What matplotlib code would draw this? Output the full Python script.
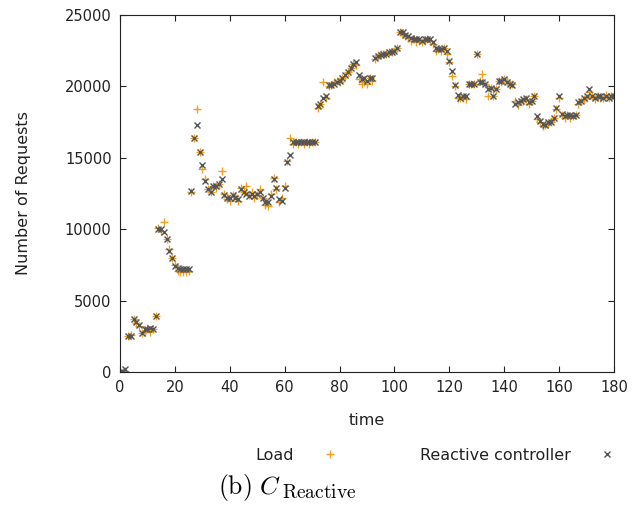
import numpy as np
import matplotlib.pyplot as plt

plt.rcParams['mathtext.fontset'] = 'cm'

# time steps 0..180
time = list(range(0, 181))

load = [
    0, 0, 100, 2500, 2600, 3700, 3400, 3200, 2700, 2800,
    3100, 2800, 3000, 3900, 10100, 9900, 10500, 9300, 8600, 8000,
    7500, 7100, 7000, 7000, 7000, 7100, 12600, 16400, 18400, 15400,
    14200, 13500, 12800, 12600, 13000, 12900, 13200, 14100, 12500, 12100,
    12000, 12400, 12300, 12000, 12900, 12600, 13000, 12400, 12600, 12200,
    12400, 12800, 12200, 11700, 11600, 12500, 13600, 12800, 11900, 12200,
    13000, 14800, 16400, 16000, 16100, 16000, 16100, 16000, 16100, 16000,
    16100, 16100, 18500, 18800, 20300, 19200, 20000, 20100, 20300, 20400,
    20300, 20600, 20700, 21000, 21300, 21600, 21500, 20500, 20200, 20300,
    20200, 20600, 20400, 21900, 22200, 22300, 22300, 22300, 22400, 22400,
    22500, 22700, 23800, 23700, 23500, 23400, 23200, 23300, 23100, 23200,
    23100, 23200, 23300, 23200, 23000, 22500, 22600, 22500, 22700, 22300,
    21700, 20700, 20000, 19200, 19200, 19200, 19100, 20200, 20200, 20200,
    22300, 20400, 20900, 20200, 19300, 19900, 19300, 19800, 20400, 20300,
    20500, 20400, 20100, 20200, 19000, 18700, 19000, 19000, 19100, 18800,
    19000, 19300, 17700, 17500, 17200, 17300, 17400, 17500, 17800, 18400,
    19200, 18000, 17800, 18000, 17800, 17900, 18000, 18800, 19000, 19100,
    19200, 19600, 19300, 19100, 19300, 19200, 19200, 19400, 19200, 19300,
    19300,
]

controller = [
    0, 0, 200, 2500, 2500, 3700, 3500, 3300, 2700, 3000,
    3000, 3100, 3000, 3900, 10000, 10000, 9800, 9300, 8500, 8000,
    7400, 7300, 7200, 7200, 7200, 7200, 12700, 16400, 17300, 15400,
    14500, 13400, 12800, 12600, 13000, 13000, 13200, 13500, 12400, 12200,
    12200, 12400, 12200, 12100, 12800, 12600, 12500, 12300, 12500, 12300,
    12500, 12600, 12200, 11900, 11900, 12300, 13500, 12900, 12100, 12000,
    12900, 14700, 15200, 16100, 16100, 16100, 16100, 16100, 16100, 16100,
    16100, 16100, 18600, 18800, 19200, 19300, 20100, 20100, 20200, 20300,
    20400, 20600, 20800, 21000, 21300, 21600, 21700, 20800, 20500, 20600,
    20400, 20600, 20600, 22000, 22100, 22200, 22300, 22300, 22400, 22400,
    22500, 22700, 23800, 23800, 23600, 23500, 23400, 23300, 23300, 23300,
    23200, 23300, 23300, 23300, 23100, 22700, 22600, 22600, 22700, 22500,
    21800, 21100, 20100, 19400, 19200, 19300, 19300, 20200, 20200, 20200,
    22300, 20300, 20300, 20200, 19800, 19900, 19300, 19800, 20400, 20400,
    20500, 20300, 20200, 20100, 18800, 18900, 19000, 19100, 19200, 18900,
    19000, 19300, 17900, 17600, 17400, 17300, 17500, 17500, 17800, 18500,
    19300, 18100, 17900, 18000, 18000, 17900, 18000, 18900, 19000, 19200,
    19300, 19800, 19300, 19200, 19300, 19300, 19200, 19300, 19200, 19300,
    19300,
]

fig = plt.figure(figsize=(6.36, 5.08), dpi=100)
ax = fig.add_axes([120 / 636, 1 - 372 / 508, 494 / 636, 357 / 508])

ax.plot(time, load, linestyle='none', marker='+', markersize=6, mew=1.0,
        color='#f0a020', label='Load')
ax.plot(time, controller, linestyle='none', marker='x', markersize=5, mew=1.0,
        color='#555555', label='Reactive controller')

ax.set_xlim(0, 180)
ax.set_ylim(0, 25000)
ax.set_xticks(range(0, 181, 20))
ax.set_yticks(range(0, 25001, 5000))
ax.tick_params(direction='in', top=True, right=True, length=4, labelsize=10.5,
               colors='#222222', pad=6)
for s in ax.spines.values():
    s.set_color('#222222')

ax.set_xlabel('time', fontsize=11.5, color='#222222')
ax.xaxis.set_label_coords(0.5, -0.115)
ax.set_ylabel('Number of Requests', fontsize=11.5, color='#222222')
ax.yaxis.set_label_coords(-0.18, 0.5)

ax.legend(loc='center left', bbox_to_anchor=(255 / 636, 1 - 455 / 508),
          bbox_transform=fig.transFigure, ncol=2, frameon=False,
          markerfirst=False, handlelength=2, handletextpad=1.3,
          columnspacing=4.6, borderpad=0, borderaxespad=0, fontsize=11.5,
          labelcolor='#222222')

# caption
fig.text(218 / 636, 1 - 494 / 508, r'$\mathrm{(b)}\ C$',
         ha='left', va='baseline', fontsize=18.5)
fig.text(282 / 636, 1 - 498 / 508, r'$\mathrm{Reactive}$',
         ha='left', va='baseline', fontsize=14)

fig.savefig('out.png', dpi=100)
